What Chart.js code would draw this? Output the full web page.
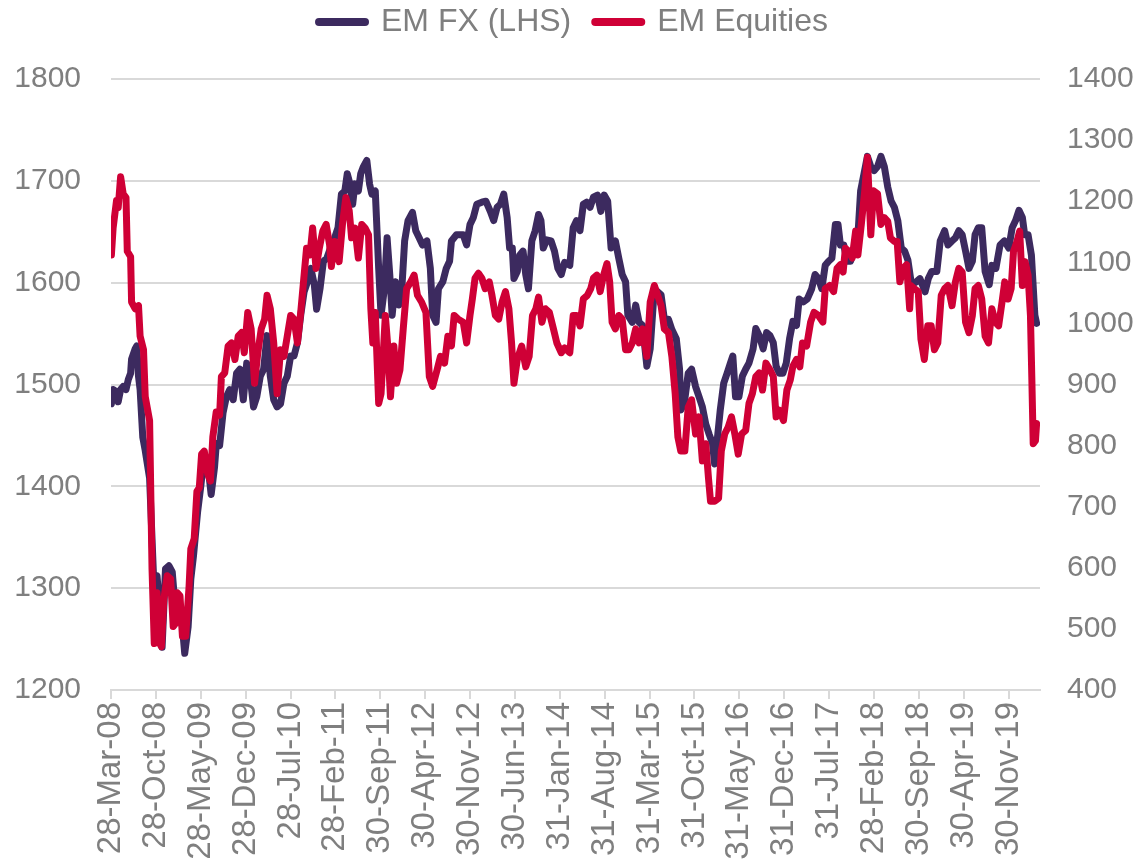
<!DOCTYPE html>
<html>
<head>
<meta charset="utf-8">
<title>EM FX vs EM Equities</title>
<script src="https://cdn.jsdelivr.net/npm/chart.js@4.4.1/dist/chart.umd.min.js"></script>
<style>
    html, body { margin: 0; padding: 0; background: #ffffff; }
    #wrap { width: 1147px; height: 862px; }
</style>
</head>
<body>
<div id="wrap"><canvas id="emChart" width="1147" height="862"></canvas></div>
<script>
// months counted from 28-Mar-08
const xTickMonths = [0, 7, 14, 21, 28, 35, 42, 49, 56, 63, 70, 77, 84, 91, 98, 105, 112, 119, 126, 133, 140];
const xTickLabels = ['28-Mar-08', '28-Oct-08', '28-May-09', '28-Dec-09', '28-Jul-10', '28-Feb-11', '30-Sep-11',
    '30-Apr-12', '30-Nov-12', '30-Jun-13', '31-Jan-14', '31-Aug-14', '31-Mar-15', '31-Oct-15', '31-May-16',
    '31-Dec-16', '31-Jul-17', '28-Feb-18', '30-Sep-18', '30-Apr-19', '30-Nov-19'];

// EM FX (left axis)
const fxMonths = [0.06,0.33,0.86,1.12,1.50,1.90,2.34,2.70,3.06,3.21,
    3.76,4.02,4.29,4.54,4.96,5.34,6.02,6.65,7.18,7.60,
    7.97,8.50,9.03,9.55,10.08,10.61,11.14,11.50,12.03,12.45,
    12.87,13.51,14.04,14.55,15.09,15.62,16.15,16.43,16.94,17.47,
    18.00,18.53,19.06,19.59,20.11,20.64,21.17,21.70,22.23,22.74,
    23.28,23.81,24.34,24.85,25.38,25.91,26.44,26.97,27.49,28.02,
    28.55,29.08,29.59,30.12,30.65,31.18,31.71,32.07,32.60,33.13,
    33.66,34.35,34.88,35.41,35.94,36.47,36.85,37.27,37.69,38.05,
    38.58,38.95,39.37,39.90,40.33,40.68,41.22,41.75,42.12,42.64,
    43.06,43.48,43.85,44.38,44.91,45.27,45.80,46.33,47.02,47.53,
    48.06,48.59,49.28,49.81,50.17,50.70,51.07,51.76,52.29,52.81,
    53.10,53.88,54.94,55.47,55.99,56.52,57.05,57.84,58.47,59.16,
    59.69,60.22,60.73,61.26,61.79,62.17,62.59,62.85,63.37,63.74,
    64.27,64.69,65.11,65.64,66.16,66.69,67.06,67.42,67.95,68.64,
    69.17,69.70,70.23,70.75,71.56,72.09,72.62,73.15,73.67,74.19,
    74.72,75.25,75.88,76.41,76.94,77.47,78.00,78.67,79.20,79.73,
    80.26,80.62,81.31,81.84,82.37,82.90,83.58,84.10,84.74,85.27,
    85.80,86.31,86.95,87.48,88.17,88.68,88.87,89.41,90.03,90.56,
    91.18,91.71,92.24,92.77,93.30,93.82,94.15,94.50,95.03,95.56,
    96.09,96.61,96.99,97.41,97.94,98.47,98.99,99.51,100.15,100.57,
    101.10,101.72,102.26,102.79,103.30,103.74,104.25,104.79,105.32,105.84,
    106.36,106.92,107.34,107.97,108.61,109.29,109.81,110.34,110.87,111.40,
    111.93,112.44,112.98,113.40,113.77,114.29,114.82,115.34,115.88,116.41,
    116.92,117.45,117.98,118.51,119.04,119.56,120.09,120.62,121.15,121.68,
    122.19,122.72,123.26,123.79,124.30,124.86,125.64,126.17,126.97,127.48,
    128.01,128.81,129.34,130.03,130.54,131.18,131.71,132.24,132.76,133.29,
    133.82,134.35,134.77,135.28,135.81,136.34,136.98,137.40,138.02,138.67,
    139.35,140.04,140.56,141.09,141.62,142.15,142.51,143.04,143.56,144.10,
    144.37];
const fxValues = [1481,1495,1493,1483,1495,1498,1495,1505,1511,1525,
    1535,1538,1508,1495,1448,1435,1408,1309,1312,1279,
    1242,1319,1322,1316,1276,1282,1262,1236,1262,1309,
    1332,1375,1402,1432,1422,1392,1419,1442,1440,1472,
    1488,1495,1485,1511,1515,1485,1521,1508,1478,1488,
    1508,1515,1548,1508,1485,1478,1481,1501,1508,1528,
    1528,1541,1568,1591,1601,1614,1598,1574,1594,1621,
    1624,1636,1644,1654,1687,1690,1707,1697,1677,1697,
    1690,1707,1714,1720,1697,1687,1690,1614,1568,1594,
    1644,1608,1568,1601,1578,1584,1641,1661,1669,1651,
    1644,1637,1641,1614,1568,1561,1594,1601,1614,1621,
    1641,1647,1647,1637,1657,1664,1677,1679,1680,1670,
    1661,1674,1677,1687,1664,1634,1634,1604,1611,1627,
    1631,1608,1594,1641,1651,1667,1661,1634,1642,1641,
    1631,1614,1608,1620,1617,1654,1661,1651,1677,1679,
    1674,1684,1686,1670,1686,1680,1634,1641,1624,1608,
    1601,1568,1561,1578,1561,1558,1518,1535,1594,1591,
    1588,1564,1564,1554,1545,1515,1475,1481,1511,1515,
    1498,1488,1478,1461,1451,1442,1422,1442,1475,1501,
    1511,1521,1528,1488,1488,1508,1515,1521,1535,1555,
    1548,1535,1551,1548,1541,1518,1511,1511,1521,1545,
    1562,1558,1584,1581,1584,1594,1608,1604,1594,1617,
    1621,1624,1657,1657,1637,1637,1621,1621,1631,1637,
    1690,1707,1724,1714,1710,1714,1724,1714,1694,1680,
    1674,1661,1634,1631,1622,1598,1601,1604,1591,1604,
    1611,1611,1641,1651,1637,1641,1644,1651,1647,1631,
    1614,1621,1647,1654,1654,1611,1598,1617,1614,1637,
    1641,1634,1654,1661,1671,1664,1647,1647,1627,1568,
    1560];

// EM Equities (right axis)
const eqMonths = [0.06,0.33,0.86,1.12,1.50,1.90,2.34,2.54,3.06,3.21,
    3.76,4.29,4.54,5.07,5.34,6.02,6.40,6.75,7.18,7.60,
    7.86,8.24,8.77,9.30,9.70,10.08,10.34,10.76,11.14,11.65,
    12.18,12.45,12.98,13.40,13.77,14.13,14.55,15.09,15.51,15.88,
    16.41,16.94,17.22,17.74,18.27,18.80,19.33,19.84,20.37,20.79,
    21.33,21.86,22.39,22.90,23.43,23.96,24.34,24.85,25.38,25.91,
    26.44,26.97,27.49,28.02,28.55,29.08,29.59,30.12,30.50,31.03,
    31.45,31.98,32.49,33.03,33.56,34.09,34.37,34.88,35.58,36.10,
    36.63,37.16,37.53,38.05,38.58,39.11,39.64,40.17,40.53,40.84,
    41.22,41.75,42.12,42.79,43.17,43.59,44.12,44.54,45.07,45.58,
    46.11,46.75,47.28,47.80,48.44,49.12,49.65,50.17,50.86,51.39,
    52.03,52.54,53.10,53.52,54.15,54.94,55.47,55.99,56.36,56.78,
    57.31,57.84,58.36,59.00,59.42,59.95,60.48,61.00,61.53,62.06,
    62.48,62.85,63.37,64.05,64.69,65.22,65.74,66.27,66.69,67.22,
    67.75,68.37,69.01,69.54,70.23,70.75,71.56,72.09,72.62,73.15,
    73.67,74.30,74.83,75.25,75.78,76.30,76.83,77.36,77.78,78.16,
    78.67,79.20,79.73,80.26,80.79,81.31,81.84,82.37,82.90,83.58,
    84.10,84.74,85.27,85.80,86.31,86.95,87.48,88.00,88.42,88.87,
    89.50,90.03,90.56,91.18,91.71,92.24,92.77,93.19,93.51,94.15,
    94.77,95.19,95.72,96.25,96.78,97.30,97.83,98.36,99.00,99.51,
    100.04,100.57,101.10,101.62,102.15,102.79,103.30,103.74,104.25,104.89,
    105.42,105.94,106.36,106.92,107.44,107.86,108.50,109.12,109.65,110.34,
    111.03,111.40,112.09,112.71,113.24,113.77,114.19,114.55,115.08,115.61,
    116.14,116.50,117.03,117.56,117.98,118.51,118.93,119.56,120.09,120.62,
    121.15,121.57,122.19,122.62,123.04,123.57,124.10,124.57,124.75,125.28,
    125.91,126.33,126.86,127.39,127.92,128.43,128.96,129.50,130.03,130.54,
    131.18,131.71,132.24,132.76,133.29,133.82,134.35,134.77,135.28,135.81,
    136.34,136.87,137.40,137.92,138.45,138.98,139.40,139.93,140.40,140.77,
    141.30,141.73,142.15,142.57,143.04,143.41,143.62,143.84,144.19,144.37];
const eqValues = [1112,1156,1201,1189,1240,1212,1206,1118,1109,1035,
    1024,1029,979,957,880,841,598,476,559,476,
    471,548,587,582,504,509,559,554,488,488,
    570,631,648,725,731,786,791,753,742,814,
    855,850,913,919,963,968,941,979,985,952,
    1018,991,902,952,991,1007,1046,1024,968,885,
    957,946,979,1013,1007,968,1018,1079,1123,1112,
    1156,1090,1123,1151,1162,1129,1093,1134,1101,1162,
    1206,1184,1140,1156,1107,1162,1156,1145,1024,968,
    1018,869,885,1013,963,880,963,902,924,991,
    1057,1068,1079,1046,1035,1018,913,897,924,946,
    935,979,963,1013,1007,1002,968,1013,1040,1074,
    1082,1074,1057,1068,1046,1013,1007,1035,1052,1024,
    968,902,941,963,929,946,1013,1024,1043,1002,
    1024,1018,991,968,952,960,952,1013,1013,996,
    1040,1046,1057,1074,1079,1052,1079,1098,1068,1002,
    991,1013,1007,957,957,968,991,968,991,946,
    1035,1062,1046,1029,991,985,946,885,814,791,
    791,863,875,819,847,775,803,747,709,709,
    714,791,819,830,847,819,786,819,825,869,
    885,913,919,891,935,924,913,847,858,841,
    891,907,930,941,929,968,963,1002,1018,1013,
    1002,1057,1062,1052,1090,1096,1084,1123,1118,1107,
    1151,1112,1162,1217,1272,1145,1217,1212,1162,1173,
    1167,1140,1134,1134,1068,1090,1096,1024,1062,1057,
    1052,974,941,996,996,957,968,1046,1057,1062,
    1029,1068,1090,1084,1002,985,1013,1057,1062,1040,
    979,968,1024,1002,996,1035,1068,1040,1057,1118,
    1134,1151,1062,1101,1079,1013,913,803,808,836];

const textGrey = '#7f7f7f';
const gridGrey = '#d9d9d9';

Chart.defaults.font.family = "'Liberation Sans', Arial, sans-serif";
Chart.defaults.color = textGrey;

const toPoints = (xs, ys) => xs.map((x, i) => ({ x: x, y: ys[i] }));

// make the legend box reach down to the top of the plot
const legendHeight = {
    id: 'legendHeight',
    beforeInit(chart) {
        const fit = chart.legend.fit;
        chart.legend.fit = function () {
            fit.bind(chart.legend)();
            this.height = 97;
        };
    }
};

new Chart(document.getElementById('emChart'), {
    type: 'line',
    data: {
        datasets: [{
            label: 'EM FX (LHS)',
            data: toPoints(fxMonths, fxValues),
            yAxisID: 'y',
            borderColor: '#3c2a5f',
            backgroundColor: '#3c2a5f',
            borderWidth: 7,
            borderJoinStyle: 'round',
            borderCapStyle: 'round',
            pointRadius: 0,
            order: 1
        }, {
            label: 'EM Equities',
            data: toPoints(eqMonths, eqValues),
            yAxisID: 'y1',
            borderColor: '#cf0036',
            backgroundColor: '#cf0036',
            borderWidth: 7,
            borderJoinStyle: 'round',
            borderCapStyle: 'round',
            pointRadius: 0,
            order: 0
        }]
    },
    options: {
        responsive: false,
        animation: false,
        layout: { padding: { top: -18, left: 0, right: 0, bottom: 0 } },
        plugins: {
            legend: {
                position: 'top',
                labels: {
                    usePointStyle: true,
                    pointStyle: 'line',
                    pointStyleWidth: 46,
                    padding: 24,
                    color: textGrey,
                    font: { size: 32 },
                    sort: (a, b) => a.datasetIndex - b.datasetIndex,
                    generateLabels: (chart) => Chart.defaults.plugins.legend.labels.generateLabels(chart)
                        .map(item => Object.assign(item, { lineWidth: 8, lineCap: 'round' }))
                }
            },
            tooltip: { enabled: false }
        },
        scales: {
            x: {
                type: 'linear',
                min: 0,
                max: 144.9,
                afterBuildTicks: (scale) => {
                    scale.ticks = xTickMonths.map(v => ({ value: v }));
                },
                afterFit: (scale) => { scale.height = 172; },
                grid: {
                    drawOnChartArea: false,
                    drawTicks: true,
                    tickLength: 9,
                    color: gridGrey,
                    lineWidth: 2
                },
                border: { color: gridGrey, width: 2 },
                ticks: {
                    autoSkip: false,
                    minRotation: 90,
                    maxRotation: 90,
                    padding: 3,
                    color: textGrey,
                    font: { size: 33 },
                    callback: (value, index) => xTickLabels[index]
                }
            },
            y: {
                position: 'left',
                min: 1200,
                max: 1800,
                afterFit: (scale) => { scale.width = 111; },
                grid: { color: gridGrey, lineWidth: 2, drawTicks: false },
                border: { display: false },
                ticks: { stepSize: 100, padding: 30, color: textGrey, font: { size: 30 }, callback: (v) => String(v) }
            },
            y1: {
                position: 'right',
                min: 400,
                max: 1400,
                afterFit: (scale) => { scale.width = 107; },
                grid: { display: false, drawTicks: false },
                border: { display: false },
                ticks: { stepSize: 100, padding: 27, color: textGrey, font: { size: 30 }, callback: (v) => String(v) }
            }
        }
    },
    plugins: [legendHeight]
});
</script>
</body>
</html>
